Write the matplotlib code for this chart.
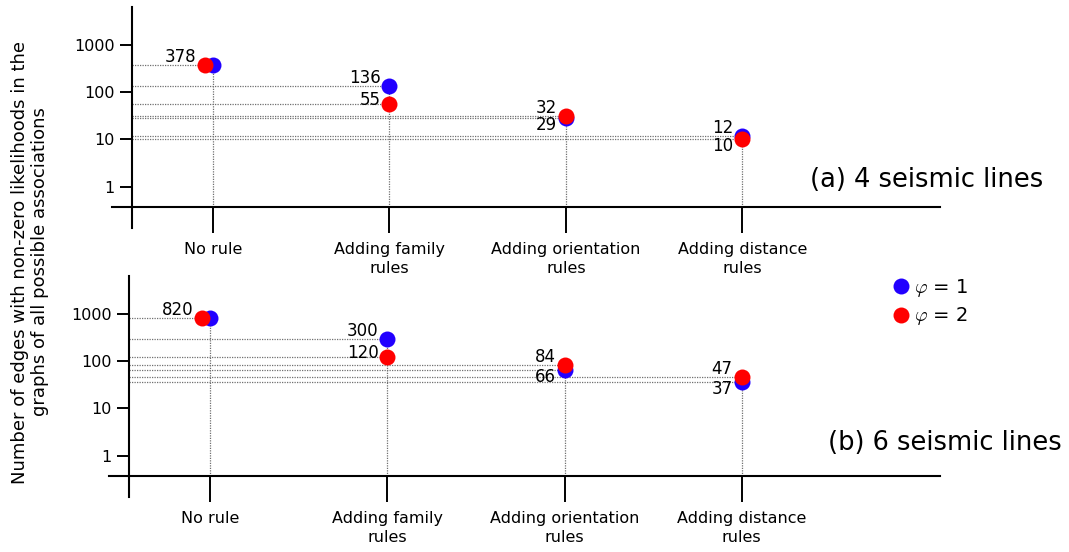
import numpy as np
import matplotlib
matplotlib.use('Agg')
import matplotlib.pyplot as plt
from matplotlib.ticker import FixedLocator, NullLocator

categories = ['No rule', 'Adding family\nrules', 'Adding orientation\nrules', 'Adding distance\nrules']
y_ticks = [1, 10, 100, 1000]
y_tick_labels = ['1', '10', '100', '1000']

# (a) 4 seismic lines
blue_4 = [378, 136, 29, 12]
red_4 = [378, 55, 32, 10]
# (b) 6 seismic lines
blue_6 = [820, 300, 66, 37]
red_6 = [820, 120, 84, 47]

panel_titles = ['(a) 4 seismic lines', '(b) 6 seismic lines']
legend_labels = [r'$\varphi$ = 1', r'$\varphi$ = 2']
ylabel = 'Number of edges with non-zero likelihoods in the\ngraphs of all possible associations'

plt.rcParams['mathtext.fontset'] = 'cm'

BLUE = '#2200ff'
RED = '#ff0000'
DOT = '#707070'

W, H = 1069, 552
fig = plt.figure(figsize=(W / 100, H / 100), dpi=100)


def px_axes(x0, y0, x1, y1):
    return fig.add_axes([x0 / W, 1 - y1 / H, (x1 - x0) / W, (y1 - y0) / H])


XLIM = (-0.572, 4.12)
YLIM = (0.132, 6400)
SPINE_X = -0.458
SPINE_Y = 0.377


def draw_panel(ax, blue, red):
    x = np.arange(len(categories))
    blue = np.array(blue)
    red = np.array(red)
    red_x = x - 0.045 * (red == blue)

    ax.set_yscale('log')
    ax.set_xlim(*XLIM)
    ax.set_ylim(*YLIM)

    # dotted guides
    for xi, rxi, b, r in zip(x, red_x, blue, red):
        ax.plot([SPINE_X, xi], [b, b], color=DOT, lw=0.9, ls=(0, (1, 1)), zorder=1)
        if r != b:
            ax.plot([SPINE_X, rxi], [r, r], color=DOT, lw=0.9, ls=(0, (1, 1)), zorder=1)
        ax.plot([xi, xi], [SPINE_Y, max(b, r)], color=DOT, lw=0.9, ls=(0, (1, 1)), zorder=1)

    ax.plot(x, blue, 'o', color=BLUE, ms=11.5, mew=0, zorder=3, label=legend_labels[0])
    ax.plot(red_x, red, 'o', color=RED, ms=11.5, mew=0, zorder=4, label=legend_labels[1])

    # value labels
    for xi, rxi, b, r in zip(x, red_x, blue, red):
        if b == r:
            ax.annotate(str(b), (min(xi, rxi), b), xytext=(-9, 8), textcoords='offset pixels',
                        ha='right', va='center', fontsize=12)
            continue
        hi, lo = max(b, r), min(b, r)
        lo_dy = -7 if hi / lo < 1.6 else 4
        ax.annotate(str(hi), (xi, hi), xytext=(-9, 8), textcoords='offset pixels',
                    ha='right', va='center', fontsize=12)
        ax.annotate(str(lo), (xi, lo), xytext=(-9, lo_dy), textcoords='offset pixels',
                    ha='right', va='center', fontsize=12)

    for s in ['top', 'right']:
        ax.spines[s].set_visible(False)
    ax.spines['left'].set_position(('data', SPINE_X))
    ax.spines['bottom'].set_position(('data', SPINE_Y))
    for s in ['left', 'bottom']:
        ax.spines[s].set_linewidth(1.5)

    ax.yaxis.set_major_locator(FixedLocator(y_ticks))
    ax.yaxis.set_minor_locator(NullLocator())
    ax.set_yticklabels(y_tick_labels)
    ax.set_xticks(x)
    ax.set_xticklabels(categories, linespacing=1.35)
    ax.tick_params(axis='y', direction='out', length=8.5, width=1.4, labelsize=11.5, pad=4)
    ax.tick_params(axis='x', direction='out', length=18.5, width=1.4, labelsize=11.5, pad=7)
    ax.set_facecolor('none')


ax_a = px_axes(112, 7, 940, 228)
draw_panel(ax_a, blue_4, red_4)
ax_b = px_axes(109, 276, 940, 497)
draw_panel(ax_b, blue_6, red_6)

fig.text(1043 / W, 1 - 180 / H, panel_titles[0], ha='right', va='center', fontsize=18.5)
fig.text(1062 / W, 1 - 443 / H, panel_titles[1], ha='right', va='center', fontsize=18.5)

fig.text(30 / W, 1 - 262 / H, ylabel, rotation=90, ha='center', va='center',
         multialignment='center', fontsize=13, linespacing=1.2)

handles, labels = ax_a.get_legend_handles_labels()
fig.legend(handles, labels, loc='center left', bbox_to_anchor=(892 / W, 1 - 302 / H),
           frameon=False, fontsize=14, handlelength=0.9, handletextpad=0.25,
           labelspacing=0.35, borderpad=0, borderaxespad=0, numpoints=1)

fig.savefig('out.png', dpi=100)
